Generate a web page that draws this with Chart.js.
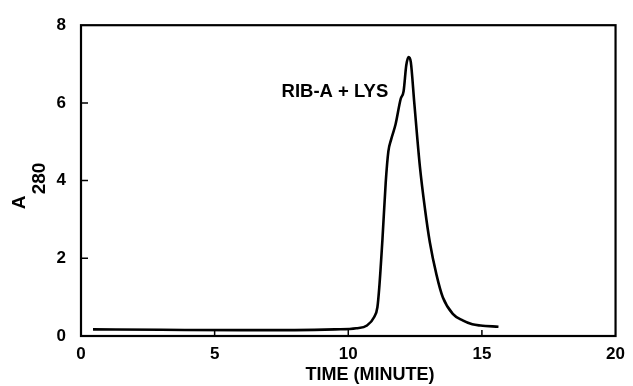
<!DOCTYPE html>
<html>
<head>
<meta charset="utf-8">
<script src="https://cdn.jsdelivr.net/npm/chart.js@4.4.1/dist/chart.umd.min.js"></script>
<style>
  html, body { margin: 0; padding: 0; background: #fff; }
  #wrap { width: 633px; height: 386px; position: relative; }
</style>
</head>
<body>
<div id="wrap"><canvas id="chart"></canvas></div>
<script>
// elution profile
const timeMin = [0.45, 3, 6, 8, 9.5, 10.3, 10.7, 10.97, 11.09, 11.16, 11.28, 11.4, 11.5, 11.6, 11.77, 11.96, 12.07, 12.17, 12.26, 12.34, 12.47, 12.68, 12.87, 13.05, 13.3, 13.54, 13.91, 14.28, 14.64, 14.95, 15.62];
const a280 = [0.17, 0.16, 0.15, 0.15, 0.17, 0.2, 0.27, 0.49, 0.74, 1.25, 2.5, 3.94, 4.75, 5.05, 5.45, 6.1, 6.3, 6.97, 7.18, 7.05, 6.0, 4.36, 3.27, 2.42, 1.58, 0.99, 0.57, 0.40, 0.30, 0.27, 0.24];
const xTicks = [0, 5, 10, 15, 20];
const yTicks = [0, 2, 4, 6, 8];
const peakLabel = 'RIB-A + LYS';

const FONT = '"Liberation Sans", Arial, Helvetica, sans-serif';

const frame = {
    id: 'frame',
    afterDraw(chart) {
        const { ctx, chartArea: a, scales } = chart;
        ctx.save();
        ctx.strokeStyle = '#000';
        ctx.lineWidth = 2.2;
        ctx.strokeRect(a.left, a.top, a.right - a.left, a.bottom - a.top);

        // inward tick marks
        ctx.lineWidth = 1.5;
        ctx.beginPath();
        xTicks.slice(1, -1).forEach(v => {
            const px = scales.x.getPixelForValue(v);
            ctx.moveTo(px, a.bottom);
            ctx.lineTo(px, a.bottom - 6);
        });
        yTicks.slice(1, -1).forEach(v => {
            const py = scales.y.getPixelForValue(v);
            ctx.moveTo(a.left, py);
            ctx.lineTo(a.left + 7, py);
        });
        ctx.stroke();

        // peak annotation
        ctx.fillStyle = '#000';
        ctx.font = 'bold 18.5px ' + FONT;
        ctx.textAlign = 'center';
        ctx.textBaseline = 'middle';
        ctx.fillText(peakLabel, scales.x.getPixelForValue(9.5), scales.y.getPixelForValue(6.29));

        // x axis title
        ctx.font = 'bold 18px ' + FONT;
        ctx.fillText('TIME (MINUTE)', 370, 375);

        // y axis title with subscript, rotated
        ctx.font = 'bold 19px ' + FONT;
        ctx.save();
        ctx.translate(20, 202.5);
        ctx.rotate(-Math.PI / 2);
        ctx.fillText('A', 0, 0);
        ctx.restore();
        ctx.save();
        ctx.translate(40, 178.5);
        ctx.rotate(-Math.PI / 2);
        ctx.fillText('280', 0, 0);
        ctx.restore();
        ctx.restore();
    }
};

new Chart(document.getElementById('chart'), {
    type: 'line',
    data: {
        datasets: [{
            data: timeMin.map((t, i) => ({ x: t, y: a280[i] })),
            borderColor: '#000',
            borderWidth: 2.6,
            pointRadius: 0,
            fill: false,
            cubicInterpolationMode: 'monotone'
        }]
    },
    options: {
        responsive: true,
        maintainAspectRatio: false,
        animation: false,
        layout: { padding: { left: 0, right: 7, top: 19, bottom: 0 } },
        plugins: { legend: { display: false }, tooltip: { enabled: false } },
        scales: {
            x: {
                type: 'linear',
                min: 0,
                max: 20,
                afterFit: s => { s.height = 50; },
                afterBuildTicks: s => { s.ticks = xTicks.map(v => ({ value: v })); },
                grid: { display: false, drawTicks: false, tickLength: 0 },
                border: { display: false },
                ticks: { color: '#000', padding: 8, maxRotation: 0, font: { family: FONT, size: 17, weight: 'bold' } }
            },
            y: {
                type: 'linear',
                min: 0,
                max: 8,
                afterFit: s => { s.width = 81; },
                afterBuildTicks: s => { s.ticks = yTicks.map(v => ({ value: v })); },
                grid: { display: false, drawTicks: false, tickLength: 0 },
                border: { display: false },
                ticks: { color: '#000', padding: 15, font: { family: FONT, size: 17, weight: 'bold' } }
            }
        }
    },
    plugins: [frame]
});
</script>
</body>
</html>
